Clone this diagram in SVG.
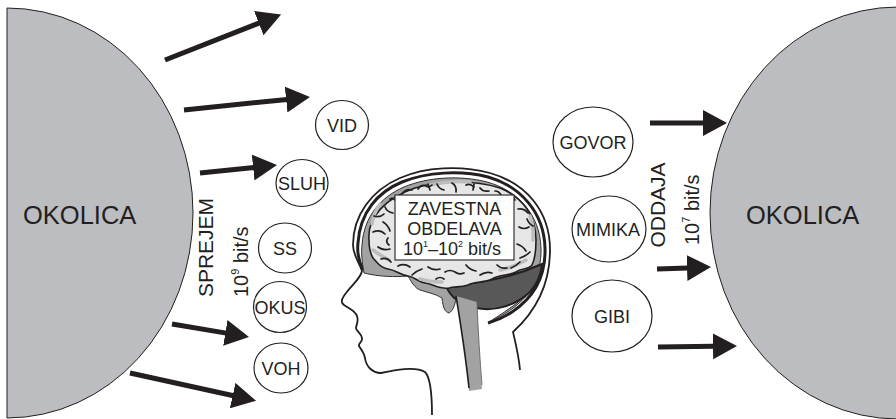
<svg xmlns="http://www.w3.org/2000/svg" width="896" height="419" viewBox="0 0 896 419">
<defs>
<style>
.env{fill:#bcbdc0;stroke:#231f20;stroke-width:1}
.lbl{font-family:"Liberation Sans",Arial,sans-serif;fill:#231f20}
.big{font-size:25.5px}
.vert{font-size:21px}
.box{font-size:18px}
.cn{font-size:18px;text-anchor:middle}
.node{fill:#fff;stroke:#231f20;stroke-width:1.2}
.arr{stroke:#231f20;stroke-width:5;fill:none;marker-end:url(#ah)}
.sul{fill:none;stroke:#231f20;stroke-width:1.7;stroke-linecap:round}
.shd{fill:none;stroke:#bdbdbd;stroke-width:3.5;stroke-linecap:round}
</style>
<marker id="ah" markerUnits="userSpaceOnUse" viewBox="0 0 24 26" markerWidth="24" markerHeight="26" refX="1" refY="13" orient="auto">
<path d="M0,0 L24,13 L0,26 Z" fill="#231f20"/>
</marker>
</defs>
<rect width="896" height="419" fill="#fff"/>

<g id="okolica-left">
<path class="env" d="M7,8 A186 205 0 0 1 7,418 Z"/>
<text class="lbl big" x="23" y="224">OKOLICA</text>
</g>
<g id="okolica-right">
<path class="env" d="M898,7 A188 206 0 0 0 898,419 Z"/>
<text class="lbl big" x="746" y="224">OKOLICA</text>
</g>

<g id="connectors">
<line class="arr" x1="165" y1="60" x2="259.7" y2="22.8"/>
<line class="arr" x1="184" y1="110" x2="287.1" y2="99.4"/>
<line class="arr" x1="200" y1="173" x2="254.1" y2="167.4"/>
<line class="arr" x1="172" y1="324" x2="226.3" y2="333.1"/>
<line class="arr" x1="130" y1="373" x2="233.6" y2="395.8"/>
<line class="arr" x1="650" y1="123" x2="704" y2="123"/>
<line class="arr" x1="657" y1="269" x2="688" y2="267.9"/>
<line class="arr" x1="658" y1="347" x2="714" y2="346.3"/>
</g>

<g id="sprejem">
<text class="lbl vert" transform="translate(213,247.5) rotate(-90)" text-anchor="middle">SPREJEM</text>
<text class="lbl vert" transform="translate(248,297) rotate(-90)" style="font-size:20px">10<tspan font-size="11" dy="-9">9</tspan><tspan dy="9"> bit/s</tspan></text>
</g>
<g id="oddaja">
<text class="lbl vert" transform="translate(665,205) rotate(-90)" text-anchor="middle">ODDAJA</text>
<text class="lbl vert" transform="translate(699,245) rotate(-90)" style="font-size:20px">10<tspan font-size="11" dy="-9">7</tspan><tspan dy="9"> bit/s</tspan></text>
</g>

<g id="vid"><ellipse class="node" cx="342" cy="125" rx="26.5" ry="24.5"/><text class="lbl cn" x="342" y="131.5">VID</text></g>
<g id="sluh"><ellipse class="node" cx="302" cy="183" rx="26" ry="23.5"/><text class="lbl cn" x="302" y="189.5">SLUH</text></g>
<g id="ss"><ellipse class="node" cx="285" cy="248" rx="26.5" ry="25"/><text class="lbl cn" x="285" y="254.5">SS</text></g>
<g id="okus"><ellipse class="node" cx="280" cy="307" rx="26.5" ry="25.5"/><text class="lbl cn" x="280" y="313.5">OKUS</text></g>
<g id="voh"><ellipse class="node" cx="281" cy="368" rx="27" ry="25"/><text class="lbl cn" x="281" y="374.5">VOH</text></g>
<g id="govor"><ellipse class="node" cx="593" cy="142" rx="40" ry="35"/><text class="lbl cn" x="593" y="148.5">GOVOR</text></g>
<g id="mimika"><ellipse class="node" cx="609" cy="229" rx="37" ry="33"/><text class="lbl cn" x="608" y="235.5">MIMIKA</text></g>
<g id="gibi"><ellipse class="node" cx="612" cy="316" rx="40" ry="36"/><text class="lbl cn" x="612" y="322.5">GIBI</text></g>

<g id="head">
<!-- skin outline -->
<path fill="none" stroke="#231f20" stroke-width="1.8" stroke-linejoin="round" d="M432,415 C432,395 431,378 425,372 C415,366 395,370 381,373 C372,373 366,366 365,358 C364,352 360,348 359,346 C358,343 363,342 362,338 C361,333 356,331 356,328 C356,325 359,322 357,316 C355,310 348,308 344,305 C340,302 342,298 346,293 C352,285 361,278 362,271 C359,262 353,255 353,245 C353,215 372,190 400,178 C425,167 460,165 490,173 C525,183 550,210 550,250 C550,285 535,312 513,332 C516,345 519,357 520,370"/>
<!-- skull thick line -->
<path fill="none" stroke="#231f20" stroke-width="3" d="M363,270 C358,260 357,252 358,243 C360,212 378,192 402,182 C427,172 460,170 488,177 C520,186 544,212 545,248 C546,280 530,300 512,312 C503,318 495,321 488,323"/>
<!-- gray band -->
<path fill="#a2a2a2" stroke="#231f20" stroke-width="0.9" d="M364,273 C362,262 361,252 362,245 C364,216 381,197 404,187 C428,177 460,175 487,182 C517,190 540,214 541,248 C542,277 527,297 510,308 C502,314 495,318 489,322 C508,314 526,300 537,282 L530,280 C520,296 505,305 487,308 L477,302 L456,298 C455,305 453,311 449,313 C445,312 443,308 442,298 C436,294 426,292 420,290 C415,288 412,283 408,276 C395,277 380,277 364,273 Z"/>
<!-- cerebellum -->
<path fill="#585858" stroke="#231f20" stroke-width="2" d="M446,286 C451,299 462,305 476,308 C496,312 516,305 530,292 C537,284 541,275 542,264 C520,274 490,283 446,286 Z"/>
<!-- brainstem -->
<path fill="#a2a2a2" stroke="none" d="M456,296 C460,320 466,360 469,391 L482,389 C480,360 478,330 477,302 Z"/>
<path fill="none" stroke="#231f20" stroke-width="1.6" d="M456,296 C460,320 466,360 469,388"/>
<path fill="none" stroke="#555" stroke-width="0.8" d="M477,302 C478,330 480,360 482,385"/>
<!-- brain -->
<path fill="#e6e6e6" stroke="#231f20" stroke-width="1.6" d="M369,240 C367,217 386,198 415,188 C440,180 475,180 500,188 C524,198 536,217 536,240 C536,252 535,259 532,265 C528,270 522,268 516,272 C508,276 500,274 492,279 C484,283 476,281 468,285 C460,288 455,286 449,288 C440,290 433,284 425,283 C418,282 415,277 408,276 C400,275 396,270 388,269 C380,268 377,262 373,258 C370,253 369,247 369,240 Z"/>
<g class="shd">
<path d="M373,250 q8,6 16,10"/><path d="M420,279 q10,3 22,3"/><path d="M500,270 q12,-2 26,-10"/><path d="M372,224 q2,-12 8,-20"/><path d="M530,216 q4,10 3,24"/><path d="M430,185 q20,-5 40,-3"/>
</g>
<g class="sul">
<path d="M402,194 q4,-6 10,-4"/><path d="M418,189 q3,-5 8,-3 q3,2 6,-1"/><path d="M437,184 q2,5 7,6"/><path d="M452,183 q5,3 4,9"/><path d="M466,185 q4,-2 8,2"/><path d="M480,188 q3,4 9,3"/><path d="M495,191 q4,0 6,4"/><path d="M507,196 q5,-1 8,4"/><path d="M390,199 q4,-2 6,3"/><path d="M428,184 l2,6"/><path d="M474,184 l-1,6"/>
<path d="M374,216 q6,2 10,-2"/><path d="M373,232 q7,-3 12,2"/><path d="M378,247 q5,4 12,2"/><path d="M381,259 q6,-2 10,3"/><path d="M385,207 q2,5 8,6"/><path d="M383,222 q5,3 7,9"/><path d="M388,238 q-3,4 1,7"/>
<path d="M518,209 q6,-1 10,4"/><path d="M519,227 q5,3 10,0"/><path d="M517,244 q6,2 9,7"/><path d="M520,258 q6,-2 10,-6"/><path d="M527,219 q2,5 6,7"/>
<path d="M398,266 q6,-3 12,1"/><path d="M412,275 q4,-4 10,-6"/><path d="M428,267 q6,4 12,2"/><path d="M445,272 q5,-3 10,0 q4,3 9,1"/><path d="M466,265 q4,5 10,6"/><path d="M480,275 q6,-4 12,-2"/><path d="M497,265 q4,4 10,3"/><path d="M511,268 q5,-2 9,-6"/><path d="M436,279 q4,-3 8,0"/>
</g>
</g>

<g id="zavestna">
<rect x="395" y="195" width="119" height="65" fill="#fff" stroke="#333" stroke-width="1.2"/>
<text class="lbl box" x="454.5" y="215" text-anchor="middle">ZAVESTNA</text>
<text class="lbl box" x="454.5" y="235" text-anchor="middle">OBDELAVA</text>
<text class="lbl box" x="403" y="255">10<tspan font-size="9" dy="-8">1</tspan><tspan dy="8">–10</tspan><tspan font-size="9" dy="-8">2</tspan><tspan dy="8"> bit/s</tspan></text>
</g>
</svg>
